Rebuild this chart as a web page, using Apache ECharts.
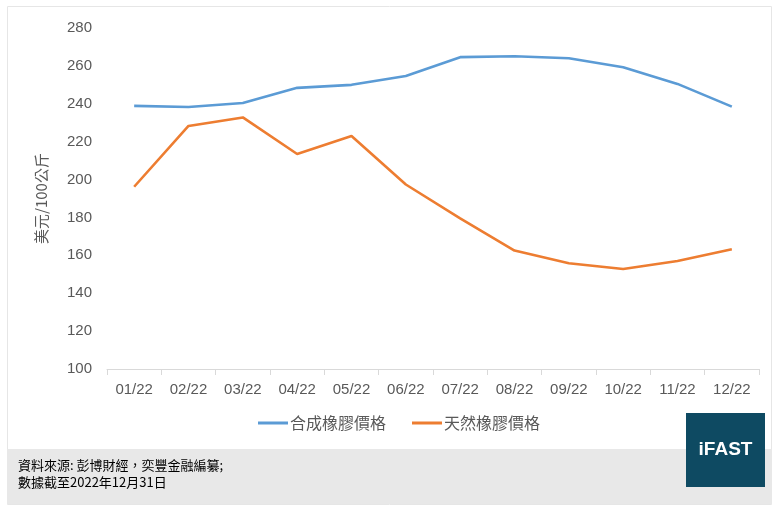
<!DOCTYPE html>
<html><head><meta charset="utf-8">
<script src="https://cdn.jsdelivr.net/npm/echarts@6/dist/echarts.min.js"></script>
<style>html,body{margin:0;padding:0;background:#fff}#c{width:781px;height:505px}</style>
</head><body><div id="c"></div>
<script>
const categories = ['01/22','02/22','03/22','04/22','05/22','06/22','07/22','08/22','09/22','10/22','11/22','12/22'];
const synthetic = [238.9, 238.3, 240.4, 248.4, 250.0, 254.7, 264.6, 265.1, 264.0, 259.3, 250.5, 238.5];
const natural = [196.2, 228.3, 232.8, 213.5, 223.0, 197.4, 179.5, 162.5, 155.8, 152.8, 157.0, 163.2];
const seriesNames = ['合成橡膠價格', '天然橡膠價格'];
const yTicks = {min: 100, max: 280, interval: 20};

const chart = echarts.init(document.getElementById('c'));
const font = "'Liberation Sans', Arial, sans-serif";
const cjk = "'Noto Sans CJK TC', sans-serif";
chart.setOption({
  animation: false,
  textStyle: {fontFamily: font},
  grid: {left: 107, right: 22, top: 28, bottom: 136},
  legend: {
    data: seriesNames, top: 415, left: 258, itemWidth: 30, itemHeight: 3, itemGap: 26,
    icon: 'rect', padding: 0,
    textStyle: {color: '#595959', fontSize: 16, fontFamily: cjk, padding: [0, 0, 0, -3]}
  },
  xAxis: {
    type: 'category', data: categories, boundaryGap: true,
    axisLine: {lineStyle: {color: '#d9d9d9'}},
    axisTick: {show: true, interval: 0, length: 6, lineStyle: {color: '#d9d9d9'}},
    axisLabel: {color: '#595959', fontSize: 15, margin: 13, interval: 0}
  },
  yAxis: {
    type: 'value', min: yTicks.min, max: yTicks.max, interval: yTicks.interval,
    name: '美元/100公斤', nameLocation: 'middle', nameGap: 58, nameRotate: 90,
    nameTextStyle: {color: '#595959', fontSize: 15, fontFamily: cjk},
    axisLine: {show: false}, axisTick: {show: false},
    splitLine: {show: false},
    axisLabel: {color: '#595959', fontSize: 15, margin: 15}
  },
  series: [
    {name: seriesNames[0], type: 'line', data: synthetic, symbol: 'none',
     lineStyle: {color: '#5B9BD5', width: 2.6}, itemStyle: {color: '#5B9BD5'}},
    {name: seriesNames[1], type: 'line', data: natural, symbol: 'none',
     lineStyle: {color: '#ED7D31', width: 2.6}, itemStyle: {color: '#ED7D31'}}
  ],
  graphic: [
    {type: 'rect', z: -10, shape: {x: 7.5, y: 6.5, width: 764, height: 498}, style: {fill: 'none', stroke: '#e6e6e6', lineWidth: 1}},
    {type: 'rect', z: -5, shape: {x: 7, y: 449, width: 765, height: 55}, style: {fill: '#e8e8e8'}},
    {type: 'text', left: 18, top: 459, style: {text: '資料來源: 彭博財經，奕豐金融編纂;', fill: '#000', font: "13px " + cjk}},
    {type: 'text', left: 18, top: 476, style: {text: '數據截至2022年12月31日', fill: '#000', font: "13px " + cjk}},
    {type: 'rect', shape: {x: 686, y: 413, width: 79, height: 74}, style: {fill: '#0e4a62'}},
    {type: 'text', x: 725.5, y: 450, style: {text: 'iFAST', fill: '#fff', font: "bold 19px 'Liberation Sans', Arial, sans-serif", align: 'center', verticalAlign: 'middle'}}
  ]
});
</script></body></html>
